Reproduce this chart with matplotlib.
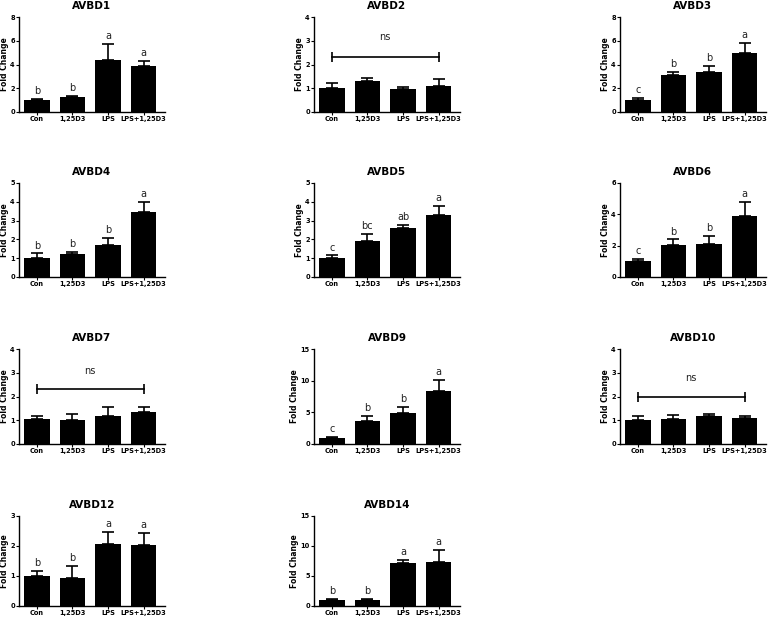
import numpy as np
import matplotlib
matplotlib.use('Agg')
import matplotlib.pyplot as plt

plt.rcParams.update({
    'font.family': 'DejaVu Sans',
    'axes.linewidth': 1.0,
})

groups = ['Con', '1,25D3', 'LPS', 'LPS+1,25D3']

genes = ['AVBD1', 'AVBD2', 'AVBD3', 'AVBD4', 'AVBD5', 'AVBD6',
         'AVBD7', 'AVBD9', 'AVBD10', 'AVBD12', 'AVBD14']

means = {
    'AVBD1': [1.0, 1.25, 4.4, 3.85],
    'AVBD2': [1.0, 1.3, 0.97, 1.1],
    'AVBD3': [1.0, 3.15, 3.35, 5.0],
    'AVBD4': [1.0, 1.2, 1.68, 3.48],
    'AVBD5': [1.0, 1.92, 2.58, 3.28],
    'AVBD6': [1.0, 2.05, 2.08, 3.9],
    'AVBD7': [1.05, 1.0, 1.18, 1.33],
    'AVBD9': [1.0, 3.6, 4.9, 8.3],
    'AVBD10': [1.0, 1.05, 1.18, 1.1],
    'AVBD12': [1.0, 0.95, 2.08, 2.02],
    'AVBD14': [1.0, 1.0, 7.1, 7.4],
}
errs = {
    'AVBD1': [0.12, 0.08, 1.35, 0.45],
    'AVBD2': [0.22, 0.12, 0.1, 0.27],
    'AVBD3': [0.2, 0.25, 0.55, 0.8],
    'AVBD4': [0.25, 0.13, 0.42, 0.52],
    'AVBD5': [0.15, 0.38, 0.2, 0.52],
    'AVBD6': [0.15, 0.35, 0.54, 0.9],
    'AVBD7': [0.13, 0.28, 0.37, 0.22],
    'AVBD9': [0.1, 0.9, 0.9, 1.8],
    'AVBD10': [0.2, 0.18, 0.09, 0.08],
    'AVBD12': [0.17, 0.38, 0.4, 0.41],
    'AVBD14': [0.2, 0.15, 0.6, 2.0],
}
letters = {
    'AVBD1': ['b', 'b', 'a', 'a'],
    'AVBD3': ['c', 'b', 'b', 'a'],
    'AVBD4': ['b', 'b', 'b', 'a'],
    'AVBD5': ['c', 'bc', 'ab', 'a'],
    'AVBD6': ['c', 'b', 'b', 'a'],
    'AVBD9': ['c', 'b', 'b', 'a'],
    'AVBD12': ['b', 'b', 'a', 'a'],
    'AVBD14': ['b', 'b', 'a', 'a'],
}
# ns bracket: (bracket height, text height)
ns_marks = {
    'AVBD2': (2.3, 2.95),
    'AVBD7': (2.3, 2.85),
    'AVBD10': (2.0, 2.55),
}
ymax = {'AVBD1': 8, 'AVBD2': 4, 'AVBD3': 8, 'AVBD4': 5, 'AVBD5': 5, 'AVBD6': 6,
        'AVBD7': 4, 'AVBD9': 15, 'AVBD10': 4, 'AVBD12': 3, 'AVBD14': 15}
ystep = {'AVBD1': 2, 'AVBD2': 1, 'AVBD3': 2, 'AVBD4': 1, 'AVBD5': 1, 'AVBD6': 2,
         'AVBD7': 1, 'AVBD9': 5, 'AVBD10': 1, 'AVBD12': 1, 'AVBD14': 5}

W, H = 769, 619
fig = plt.figure(figsize=(W / 100, H / 100), dpi=100)

col_left = [19, 314, 620]
row_top = [17, 183, 349, 516]
row_bot = [112, 277, 444, 606]
ax_w = 146

x = np.arange(len(groups))
for k, g in enumerate(genes):
    r, c = divmod(k, 3)
    ax = fig.add_axes([col_left[c] / W, 1 - row_bot[r] / H,
                       ax_w / W, (row_bot[r] - row_top[r]) / H])
    m = np.array(means[g])
    e = np.array(errs[g])
    ax.bar(x, m, width=0.72, color='black', zorder=2)
    ax.errorbar(x, m, yerr=[np.zeros_like(e), e], fmt='none', ecolor='black',
                elinewidth=1.2, capsize=4, capthick=1.2, zorder=3)
    top = ymax[g]
    if g in letters:
        for i, lab in enumerate(letters[g]):
            ax.text(x[i], m[i] + e[i] + top * 0.03, lab, ha='center', va='bottom',
                    fontsize=7, color='#222222')
    if g in ns_marks:
        yb, yt = ns_marks[g]
        ax.plot([0, 3], [yb, yb], color='black', lw=1.2, marker='|', ms=7, mew=1.2)
        ax.text(1.5, yt, 'ns', ha='center', va='bottom', fontsize=7, color='#222222')
    ax.set_xlim(-0.5, 3.6)
    ax.set_ylim(0, top)
    ax.set_yticks(np.arange(0, top + 0.01, ystep[g]))
    ax.set_xticks(x)
    ax.set_xticklabels(groups)
    ax.spines['top'].set_visible(False)
    ax.spines['right'].set_visible(False)
    ax.tick_params(axis='both', labelsize=4.8, length=2, width=0.8, pad=1)
    for t in ax.get_xticklabels() + ax.get_yticklabels():
        t.set_fontweight('bold')
    ax.set_ylabel('Fold Change', fontsize=5.5, fontweight='bold', labelpad=1)
    ax.set_title(g, fontsize=7.5, fontweight='bold', pad=6)

fig.savefig('out.png', dpi=100)
